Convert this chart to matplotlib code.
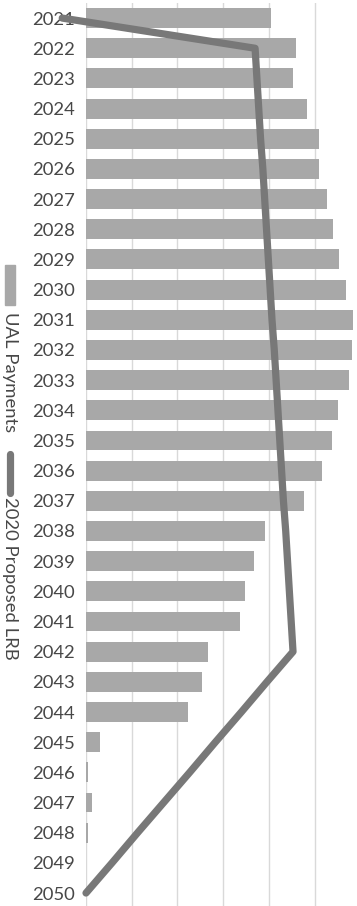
import numpy as np
import matplotlib.pyplot as plt
from matplotlib.patches import Rectangle
from matplotlib.lines import Line2D

# payment schedule by fiscal year (values in $ hundreds of millions, approx.)
years = list(range(2021, 2051))
ual_payments = [4.05, 4.60, 4.53, 4.84, 5.10, 5.10, 5.27, 5.40, 5.54, 5.69,
                5.84, 5.82, 5.75, 5.51, 5.38, 5.16, 4.77, 3.92, 3.68, 3.48,
                3.37, 2.67, 2.54, 2.23, 0.31, 0.04, 0.13, 0.04, 0.0, 0.0]
lrb_payments = [-0.52, 3.70, 3.74, 3.78, 3.82, 3.87, 3.91, 3.95, 3.99, 4.03,
                4.07, 4.12, 4.16, 4.20, 4.24, 4.28, 4.32, 4.37, 4.41, 4.45,
                4.49, 4.53, 3.96, 3.40, 2.83, 2.27, 1.70, 1.13, 0.57, 0.0]
legend_labels = ["UAL Payments", "2020 Proposed LRB"]

bar_color = "#a8a8a8"
line_color = "#787878"
text_color = "#474747"

plt.rcParams['font.family'] = ['Lato', 'DejaVu Sans']

W, H = 357, 906
fig = plt.figure(figsize=(W / 100, H / 100), dpi=100)
ax = fig.add_axes([86 / W, 0, 1 - 86 / W, 1 - 3 / H])

pos = np.arange(len(years))
ax.barh(pos, ual_payments, height=0.66, color=bar_color, zorder=2)
ax.plot(lrb_payments, pos, color=line_color, lw=5.2,
        solid_capstyle='round', solid_joinstyle='round', zorder=3, clip_on=False)

ax.set_xlim(0, (W - 86) / 45.7)
ax.set_ylim(29.43, -0.5)
ax.set_xticks(range(0, 6))
ax.set_xticklabels([])
ax.tick_params(axis='x', length=0)
ax.set_yticks(pos)
ax.set_yticklabels([str(y) for y in years], fontsize=13.3, color=text_color)
ax.tick_params(axis='y', length=0, pad=8)
ax.grid(axis='x', color='#d9d9d9', lw=1.0, zorder=0)
for s in ax.spines.values():
    s.set_visible(False)

# rotated legend down the left edge
fig.patches.append(Rectangle((5 / W, 1 - 305 / H), 10 / W, 40 / H,
                             transform=fig.transFigure, color=bar_color))
fig.text(10 / W, 1 - 312 / H, legend_labels[0], rotation=-90, ha='center',
         va='top', fontsize=13.3, color=text_color)
fig.lines.append(Line2D([10 / W, 10 / W], [1 - 454 / H, 1 - 493 / H],
                        transform=fig.transFigure, color=line_color, lw=5.2,
                        solid_capstyle='round'))
fig.text(10 / W, 1 - 497 / H, legend_labels[1], rotation=-90, ha='center',
         va='top', fontsize=13.3, color=text_color)

fig.savefig("out.png", dpi=100)
